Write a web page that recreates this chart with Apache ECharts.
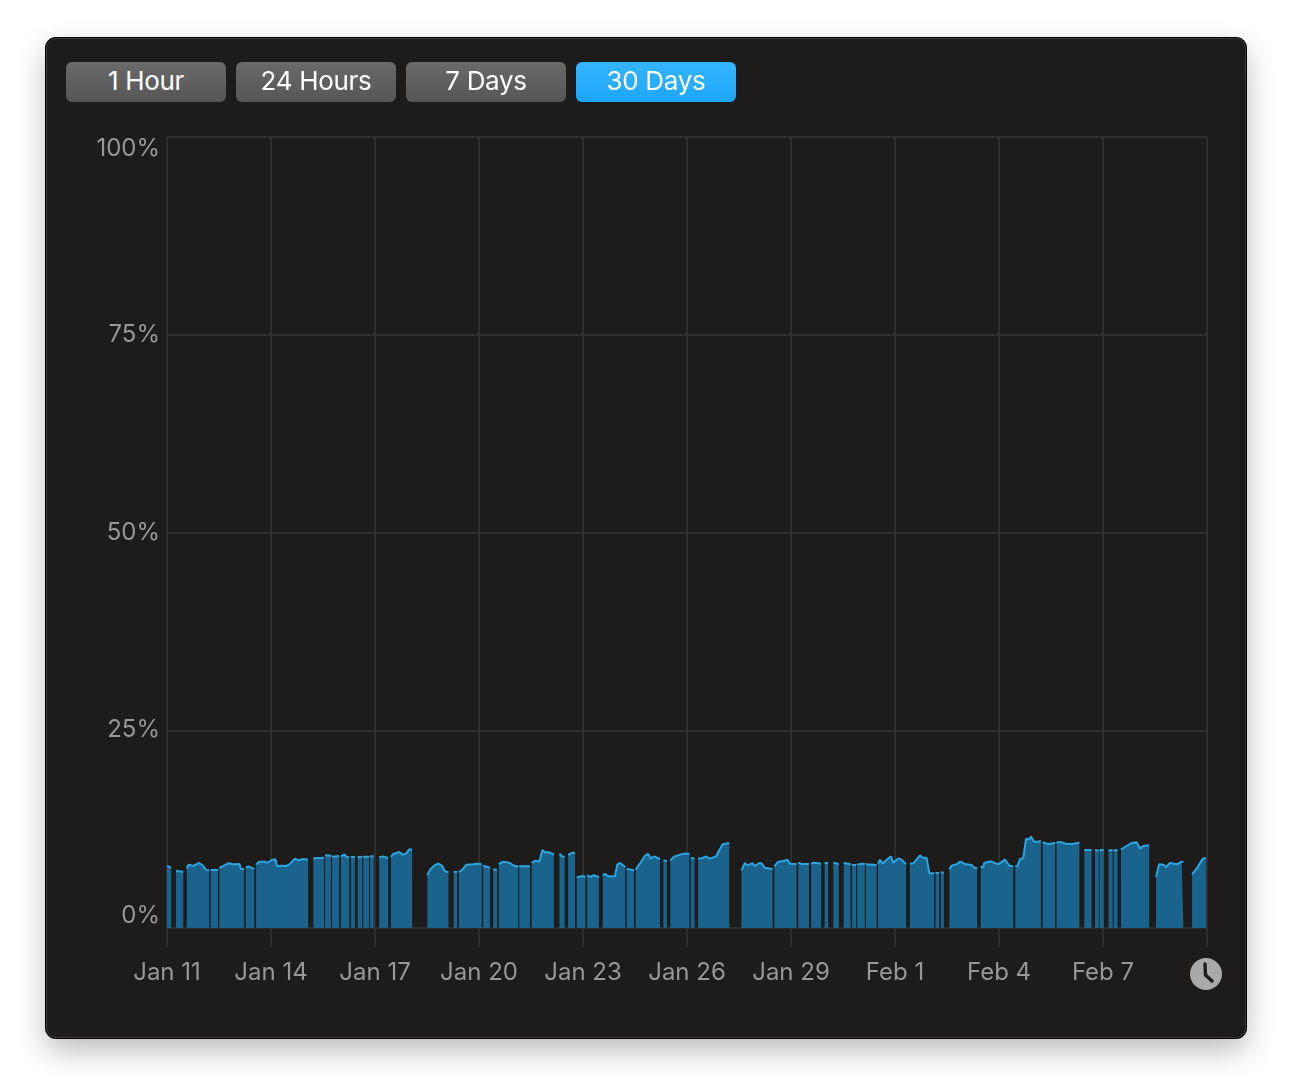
<!DOCTYPE html>
<html>
<head>
    <meta charset="utf-8" />
    <title>Usage history</title>
    <style>
        html, body { margin: 0; padding: 0; background: #fff; width: 1292px; height: 1092px; overflow: hidden; }
        #panel {
            position: absolute; left: 46px; top: 38px; width: 1200px; height: 1000px;
            box-sizing: border-box; background: #1d1c1b; border-radius: 10px;
            border: 1px solid #3a3a39; box-shadow: 0 0 0 1px #000, 0 12px 30px rgba(0,0,0,.28);
        }
        #chart { position: absolute; left: 0; top: 0; width: 1292px; height: 1092px; }
        .btn {
            position: absolute; top: 62px; width: 160px; height: 40px; line-height: 38px;
            border-radius: 6px; text-align: center; color: #fff;
            font: 26px/38px Inter, "Noto Sans", sans-serif; letter-spacing: -0.3px;
            background: linear-gradient(#6a6a6a, #565656);
        }
        .btn.on { background: linear-gradient(#35b5ff, #1ca6f8); }
        #clock { position: absolute; left: 1190px; top: 958px; width: 32px; height: 32px; }
    </style>
</head>
<body>
    <div id="panel"></div>
    <div id="chart"></div>
    <div class="btn" style="left:66px">1 Hour</div>
    <div class="btn" style="left:236px">24 Hours</div>
    <div class="btn" style="left:406px">7 Days</div>
    <div class="btn on" style="left:576px">30 Days</div>
    <svg id="clock" viewBox="0 0 32 32">
        <circle cx="16" cy="16" r="16" fill="#a9a9a9" />
        <path d="M15 6 L15.5 17 L22 23" fill="none" stroke="#1d1c1b" stroke-width="3.4" stroke-linecap="round" stroke-linejoin="round" />
    </svg>
    <script src="https://cdn.jsdelivr.net/npm/echarts@6/dist/echarts.min.js"></script>
    <script>
        // x is days since Jan 11, null closes a run of samples (machine was asleep)
        var dateLabels = ['Jan 11', 'Jan 14', 'Jan 17', 'Jan 20', 'Jan 23', 'Jan 26', 'Jan 29', 'Feb 1', 'Feb 4', 'Feb 7', ''];
        var percentLabels = [0, 25, 50, 75, 100];
        var days = [
            0, .12, null, .26, .47, null,
            .57, .62, .76, .93, 1.05, 1.13, 1.22, null,
            1.26, 1.47, null,
            1.51, 1.77, 1.91, 2.09, 2.13, 2.22, null,
            2.27, 2.35, 2.44, 2.52, null,
            2.57, 2.66, 2.83, 2.89, 3.02, 3.13, 3.17, 3.31, 3.43, 3.53, 3.69, 3.79, 3.91, 4.07, null,
            4.22, 4.53, null, 4.56, 4.73, null, 4.76, 4.97, null,
            5.02, 5.12, 5.18, 5.26, null,
            5.31, 5.42, null, 5.5, 5.63, null, 5.66, 5.83, null, 5.86, 5.96, null,
            6.12, 6.22, 6.38, null,
            6.46, 6.53, 6.7, 6.79, 6.89, 6.99, 7.07, null,
            7.51, 7.61, 7.73, 7.83, 7.92, 8.02, 8.12, null,
            8.27, 8.37, null,
            8.42, 8.5, 8.64, 8.84, 8.93, 9.08, null,
            9.12, 9.17, 9.32, null,
            9.41, 9.52, null,
            9.57, 9.7, 9.89, 10.04, 10.13, null,
            10.16, 10.47, null,
            10.52, 10.63, 10.74, 10.83, 10.93, 11, 11.16, null,
            11.32, 11.38, 11.47, null,
            11.57, 11.7, 11.77, null,
            11.82, 11.99, 12.07, null,
            12.12, 12.2, 12.3, 12.46, null,
            12.57, 12.64, 12.73, 12.92, 12.99, 13.07, 13.22, null,
            13.26, 13.47, null,
            13.52, 13.64, 13.79, 13.88, 13.95, 14.05, 14.22, null,
            14.32, 14.42, null,
            14.52, 14.65, 14.89, 15.07, null,
            15.11, 15.22, null,
            15.32, 15.45, 15.55, 15.66, 15.84, 15.93, 16.03, 16.22, null,
            16.57, 16.67, 16.74, 16.89, 16.96, 17.09, 17.15, 17.24, 17.47, null,
            17.52, 17.63, 17.78, 17.89, 17.97, 18.16, null,
            18.21, 18.31, 18.52, null,
            18.58, 18.69, 18.87, null,
            18.97, 19.07, null,
            19.22, 19.38, null,
            19.52, 19.72, null,
            19.76, 19.88, null,
            19.91, 20.04, 20.13, null,
            20.16, 20.47, null,
            20.51, 20.57, 20.64, 20.76, 20.88, 20.95, 21.1, 21.19, 21.32, null,
            21.43, 21.53, 21.72, 21.8, 21.91, 21.99, 22.13, null,
            22.17, 22.27, null,
            22.32, 22.41, null,
            22.57, 22.63, 22.78, 22.88, 23.02, 23.21, 23.28, 23.37, null,
            23.47, 23.55, 23.57, 23.76, 23.98, 24.17, 24.3, 24.41, null,
            24.47, 24.53, 24.61, 24.7, 24.78, 24.85, 24.92, 25.02, 25.21, null,
            25.26, 25.42, 25.62, null,
            25.66, 25.81, 25.93, 26.13, 26.19, 26.32, null,
            26.46, 26.67, null,
            26.77, 26.88, null,
            26.9, 27.02, null,
            27.16, 27.28, null,
            27.31, 27.42, null,
            27.52, 27.63, 27.83, 27.97, 28.07, 28.16, 28.33, null,
            28.53, 28.62, 28.74, 28.82, 28.93, 29.13, 29.27, 29.32, null,
            29.57, 29.7, 29.88, 29.97
        ];
        var usage = [
            7.84, 7.63, null, 7.21, 7.12, null,
            7.5, 8.01, 7.84, 8.22, 7.84, 7.33, 7.29, null,
            7.33, 7.33, null,
            7.59, 8.18, 8.05, 8.09, 7.5, 7.42, null,
            7.63, 7.8, 7.59, 7.54, null,
            8.01, 8.39, 8.39, 8.22, 8.6, 8.68, 7.84, 7.88, 7.84, 8.05, 8.77, 8.55, 8.72, 8.64, null,
            8.81, 8.89, null, 9.19, 9.14, null, 9.02, 9.1, null,
            9.06, 9.31, 8.98, 8.93, null,
            8.98, 8.98, null, 8.98, 8.98, null, 9.02, 9.02, null, 9.06, 9.06, null,
            8.93, 9.06, 8.85, null,
            8.98, 9.36, 9.61, 9.27, 9.4, 9.95, 9.9, null,
            6.66, 7.5, 7.96, 8.13, 7.92, 7.16, 7.04, null,
            7.12, 7.08, null,
            7.08, 7.29, 8.01, 8.05, 8.13, 8.05, null,
            7.88, 7.96, 7.63, null,
            7.42, 7.33, null,
            8.09, 8.39, 8.22, 7.8, 7.8, null,
            7.8, 7.8, null,
            8.26, 8.51, 8.39, 9.86, 9.52, 9.61, 9.27, null,
            9.4, 9.1, 8.98, null,
            9.23, 9.52, 9.48, null,
            6.41, 6.57, 6.45, null,
            6.7, 6.45, 6.66, 6.45, null,
            6.7, 6.83, 6.53, 6.53, 8.05, 8.22, 7.71, null,
            7.46, 7.29, null,
            7.37, 8.13, 9.14, 9.36, 8.77, 9.06, 8.72, null,
            8.55, 8.47, null,
            8.55, 9.06, 9.4, 9.4, null,
            8.85, 8.77, null,
            8.77, 8.85, 9.06, 8.77, 9.06, 9.82, 10.58, 10.75, null,
            7.29, 8.22, 7.92, 8.18, 7.84, 8.22, 8.18, 7.63, 7.46, null,
            7.8, 8.39, 8.47, 8.64, 8.13, 8.09, null,
            8.26, 8.09, 8.09, null,
            8.18, 8.26, 8.13, null,
            8.22, 8.22, null,
            8.26, 8.09, null,
            8.22, 8.05, null,
            7.96, 7.96, null,
            8.01, 8.13, 8.09, null,
            8.05, 7.96, null,
            8.13, 8.64, 8.13, 8.64, 9.06, 8.26, 8.81, 8.64, 8.05, null,
            8.13, 8.18, 9.19, 8.89, 8.89, 6.91, 6.91, null,
            6.95, 6.95, null,
            7.04, 7.0, null,
            7.42, 7.88, 8.05, 8.39, 8.09, 7.96, 7.63, 7.59, null,
            7.71, 7.71, 8.22, 8.43, 8.05, 8.64, 7.88, 7.8, null,
            7.8, 7.8, 8.72, 8.81, 11.29, 11.17, 11.55, 10.87, 10.96, null,
            10.83, 10.62, 10.75, null,
            10.83, 10.83, 10.66, 10.62, 10.7, 10.79, null,
            9.86, 9.86, null,
            9.82, 9.78, null,
            9.86, 9.86, null,
            9.82, 9.82, null,
            9.82, 9.82, null,
            9.95, 10.24, 10.75, 10.83, 10.03, 10.37, 10.45, null,
            6.49, 8.05, 8.01, 7.71, 8.22, 8.05, 8.39, 8.34, null,
            6.78, 7.5, 8.77, 8.85
        ];

        var gridColor = '#2f2f2d';
        var labelColor = '#979797';
        var points = days.map(function (d, i) { return [d, usage[i]]; });

        var option = {
            animation: false,
            backgroundColor: 'transparent',
            textStyle: { fontFamily: 'Inter, "Noto Sans", sans-serif' },
            grid: { left: 167, top: 137, right: 85, bottom: 164 },
            xAxis: {
                type: 'value', min: 0, max: 30, interval: 3,
                axisLine: { show: true, onZero: false, lineStyle: { color: gridColor, width: 2 } },
                axisTick: { show: true, length: 19, lineStyle: { color: gridColor, width: 2 } },
                splitLine: { show: true, lineStyle: { color: gridColor, width: 2 } },
                axisLabel: {
                    color: labelColor, fontSize: 24, margin: 33, showMinLabel: true, showMaxLabel: true,
                    hideOverlap: false,
                    formatter: function (v) { return dateLabels[v / 3]; }
                }
            },
            yAxis: {
                type: 'value', min: percentLabels[0], max: percentLabels[4], interval: 25,
                axisLine: { show: false },
                axisTick: { show: false },
                splitLine: { show: true, lineStyle: { color: gridColor, width: 2 } },
                axisLabel: {
                    color: labelColor, fontSize: 24, margin: 7,
                    verticalAlignMinLabel: 'bottom', verticalAlignMaxLabel: 'top',
                    formatter: '{value}%'
                }
            },
            series: [{
                type: 'line',
                data: points,
                showSymbol: false,
                connectNulls: false,
                lineStyle: { color: '#2ba6e2', width: 2 },
                areaStyle: { color: '#19638d', opacity: 1 },
                silent: true
            }]
        };
        var usageChart = echarts.init(document.getElementById('chart'));
        usageChart.setOption(option);
    </script>
</body>
</html>
